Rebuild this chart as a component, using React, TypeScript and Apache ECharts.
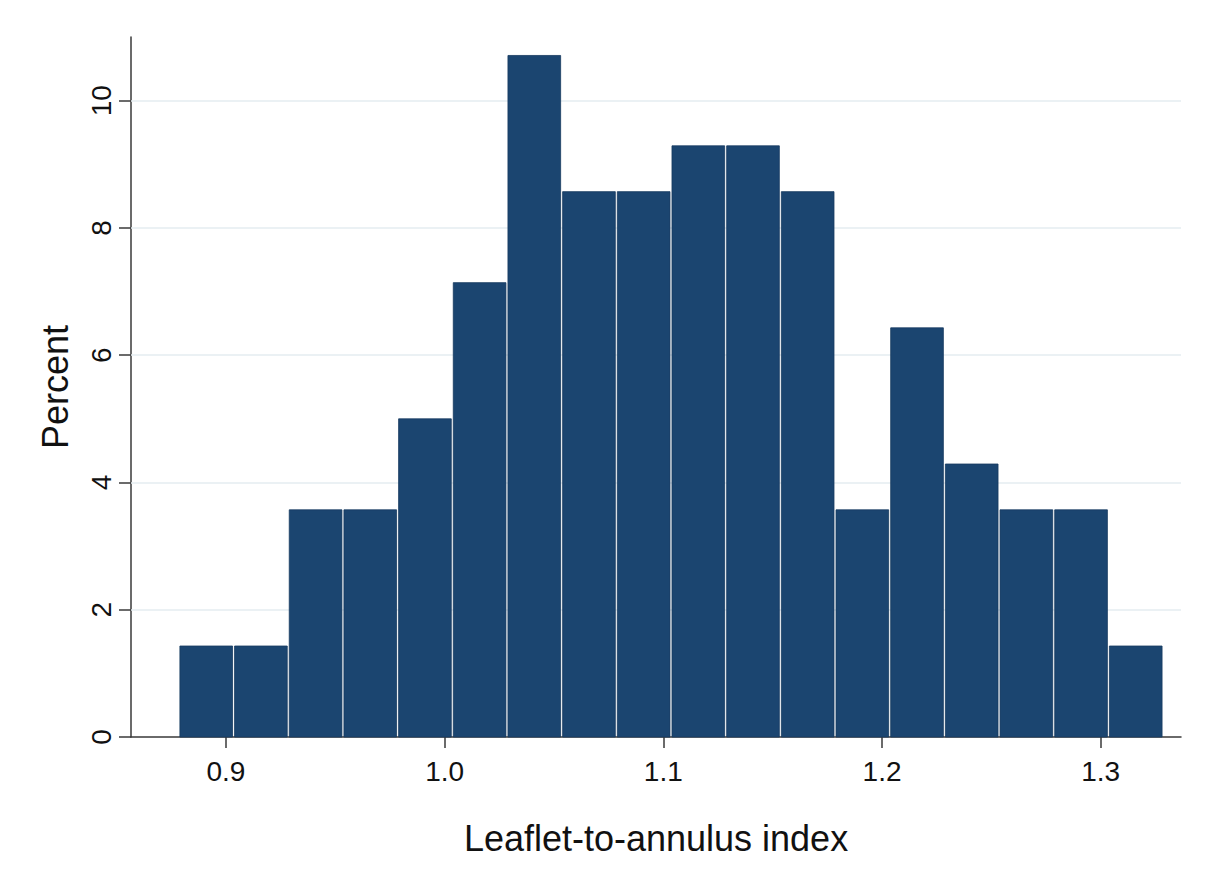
import React, { useEffect, useRef } from "react";
import * as echarts from "echarts";

// Histogram bin edges (Leaflet-to-annulus index)
const binEdges = [
  0.8785, 0.9035, 0.9285, 0.9535, 0.9785, 1.0035, 1.0285, 1.0535, 1.0785,
  1.1035, 1.1285, 1.1535, 1.1785, 1.2035, 1.2285, 1.2535, 1.2785, 1.3035, 1.3285,
];
// Percent in each bin
const percents = [
  1.43, 1.43, 3.57, 3.57, 5.0, 7.14, 10.71, 8.57, 8.57, 9.29, 9.29, 8.57, 3.57,
  6.43, 4.29, 3.57, 3.57, 1.43,
];
const xTicks = [0.9, 1.0, 1.1, 1.2, 1.3];
const yTicks = [0, 2, 4, 6, 8, 10];
const gridValues = [2, 4, 6, 8, 10];

const FONT = "'Liberation Sans', Arial, Helvetica, sans-serif";

export default function App() {
  const ref = useRef<HTMLDivElement>(null);
  useEffect(() => {
    if (!ref.current) return;
    const chart = echarts.init(ref.current, undefined, { renderer: "svg" });
    const data = percents.map((p, i) => [binEdges[i], binEdges[i + 1], p]);
    chart.setOption({
      animation: false,
      backgroundColor: "#ffffff",
      grid: { left: 131, right: 29, top: 37, bottom: 142 },
      xAxis: {
        type: "value",
        min: 0.8566,
        max: 1.3367,
        name: "Leaflet-to-annulus index",
        nameLocation: "middle",
        nameGap: 83,
        nameTextStyle: { fontFamily: FONT, fontSize: 36, color: "#111" },
        axisLine: { show: true, onZero: false, lineStyle: { color: "#3a3a3a", width: 1.5 } },
        axisTick: {
          show: true,
          inside: false,
          length: 11,
          customValues: xTicks,
          lineStyle: { color: "#3a3a3a", width: 1.5 },
        },
        axisLabel: {
          customValues: xTicks,
          margin: 20,
          fontFamily: FONT,
          fontSize: 28,
          color: "#111",
          formatter: (v: number) => v.toFixed(1),
        },
        splitLine: { show: false },
      },
      yAxis: {
        type: "value",
        min: 0,
        max: 11,
        name: "Percent",
        nameLocation: "middle",
        nameGap: 58,
        nameRotate: 90,
        nameTextStyle: { fontFamily: FONT, fontSize: 36, color: "#111" },
        axisLine: { show: true, lineStyle: { color: "#3a3a3a", width: 1.5 } },
        axisTick: {
          show: true,
          inside: false,
          length: 12,
          customValues: yTicks,
          lineStyle: { color: "#3a3a3a", width: 1.5 },
        },
        axisLabel: {
          customValues: yTicks,
          rotate: 90,
          margin: 16,
          fontFamily: FONT,
          fontSize: 28,
          color: "#111",
          formatter: (v: number) => String(v),
        },
        splitLine: { show: false },
      },
      series: [
        {
          type: "line",
          data: [],
          z: 1,
          silent: true,
          markLine: {
            silent: true,
            symbol: "none",
            label: { show: false },
            lineStyle: { color: "#e4ecf1", width: 1.5, type: "solid" },
            data: gridValues.map((v) => ({ yAxis: v })),
          },
        },
        {
          type: "custom",
          z: 5,
          data,
          encode: { x: [0, 1], y: 2 },
          renderItem: (params: any, api: any) => {
            const x0 = api.value(0);
            const x1 = api.value(1);
            const y = api.value(2);
            const p0 = api.coord([x0, y]);
            const p1 = api.coord([x1, 0]);
            return {
              type: "rect",
              shape: {
                x: p0[0] + 1,
                y: p0[1],
                width: p1[0] - p0[0] - 2,
                height: p1[1] - p0[1],
              },
              style: { fill: "#1b4570", stroke: "#163a60", lineWidth: 0.8 },
            };
          },
        },
      ],
    });
    return () => chart.dispose();
  }, []);
  return (
    <div
      ref={ref}
      style={{ position: "absolute", left: 0, top: 0, width: 1210, height: 879 }}
    />
  );
}
